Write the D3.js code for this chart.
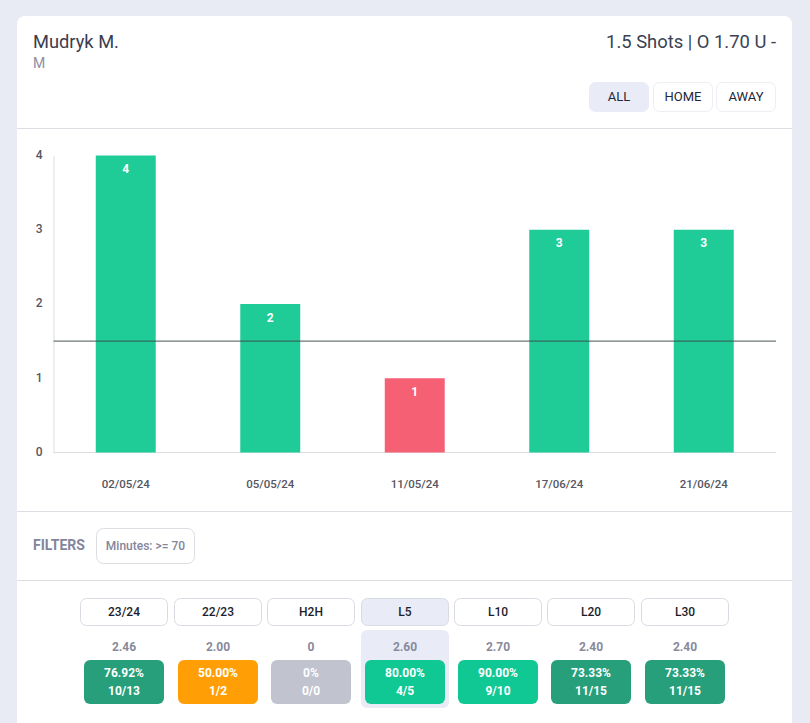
<!DOCTYPE html>
<html><head><meta charset="utf-8">
<script src="https://cdn.jsdelivr.net/npm/d3@7"></script>
<style>
html,body{margin:0;padding:0;background:#e8ebf4;overflow:hidden}
svg{display:block;font-family:Roboto,sans-serif}
</style></head><body>
<svg id="c" width="810" height="723"></svg>
<script>
const dates = ["02/05/24","05/05/24","11/05/24","17/06/24","21/06/24"];
const shots = [4,2,1,3,3];
const lineValue = 1.5;
const yTicks = [0,1,2,3,4];
const periods = ["23/24","22/23","H2H","L5","L10","L20","L30"];
const averages = ["2.46","2.00","0","2.60","2.70","2.40","2.40"];
const percents = ["76.92%","50.00%","0%","80.00%","90.00%","73.33%","73.33%"];
const ratios = ["10/13","1/2","0/0","4/5","9/10","11/15","11/15"];
const boxColors = ["#279f7b","#ff9f05","#c1c3cf","#10c893","#10c893","#279f7b","#279f7b"];
const sides = ["ALL","HOME","AWAY"];

const svg = d3.select("#c");
const rr = (g,x,y,w,h,r,fill,stroke)=>g.append("rect").attr("x",x).attr("y",y).attr("width",w).attr("height",h)
  .attr("rx",r).attr("fill",fill).attr("stroke",stroke||"none");
const txt = (g,x,y,s,size,weight,fill,anchor)=>g.append("text").attr("x",x).attr("y",y).text(s)
  .attr("font-size",size).attr("font-weight",weight).attr("fill",fill).attr("text-anchor",anchor||"middle");

// card
rr(svg,17,16,775,760,8,"#fff");
[128.5,511.5,580.5].forEach(y=>svg.append("line").attr("x1",17).attr("x2",792).attr("y1",y).attr("y2",y).attr("stroke","#dcdde3"));

// header
txt(svg,33,48,"Mudryk M.",18.3,400,"#3a3c50","start");
txt(svg,33,68,"M",14,400,"#8d8ea3","start");
txt(svg,776,48,"1.5 Shots | O 1.70 U -",18.4,400,"#3a4153","end");

// side buttons
const sideX = d3.scaleOrdinal().domain(sides).range([589,653,716]);
sides.forEach((s,i)=>{
  const x=sideX(s);
  rr(svg,x+.5,82.5,59,29,6,i===0?"#e9ecf6":"#fff",i===0?"#e9ecf6":"#eceef3");
  txt(svg,x+30,101,s,13,400,"#24263a");
});

// chart
const x = d3.scaleBand().domain(dates).range([53.5,776]).paddingInner(0.585).paddingOuter(0.2925);
const y = d3.scaleLinear().domain([0,4]).range([452.5,155.5]);
const plot = svg.append("g");

const yAxis = plot.append("g").attr("transform","translate(53.5,0)").call(d3.axisLeft(y).tickValues(yTicks).tickSize(0).tickPadding(11).tickFormat(d3.format("d")));
yAxis.select(".domain").attr("stroke","#dcdde3");
yAxis.selectAll("text").attr("y",-1).attr("font-size",12).attr("font-weight",500).attr("font-family","Roboto").attr("fill","#55565f");

const xAxis = plot.append("g").attr("transform","translate(0,452.5)").call(d3.axisBottom(x).tickSize(0).tickPadding(0));
xAxis.select(".domain").attr("stroke","#dcdde3").attr("d","M53.5,0H776");
xAxis.selectAll("text").attr("y",35).attr("dy",0).attr("font-size",11.5).attr("font-weight",500).attr("font-family","Roboto").attr("fill","#55565f");

plot.selectAll(".bar").data(shots).join("rect").attr("class","bar")
  .attr("x",(d,i)=>x(dates[i])).attr("width",x.bandwidth())
  .attr("y",d=>y(d)).attr("height",d=>y(0)-y(d))
  .attr("fill",d=>d>lineValue?"#1fcc97":"#f66074");

plot.append("line").attr("x1",53.5).attr("x2",776).attr("y1",y(lineValue)).attr("y2",y(lineValue))
  .attr("stroke","#3c4a48").attr("stroke-opacity",.75).attr("stroke-width",1.2);

plot.selectAll(".lab").data(shots).join("text").attr("class","lab")
  .attr("x",(d,i)=>x(dates[i])+x.bandwidth()/2).attr("y",d=>y(d)+17.5)
  .attr("text-anchor","middle").attr("font-size",12).attr("font-weight",700).attr("fill","#fff").text(d=>d);

// filters
txt(svg,33,550,"FILTERS",14,700,"#84859b","start");
rr(svg,96.5,528.5,98,35,7,"#fff","#dcdde3");
txt(svg,145.5,550,"Minutes: >= 70",12,500,"#84859b");

// periods
const btnX = [80,174,267,361,454,547,641];
const pos = d3.scaleOrdinal().domain(periods).range(btnX);
rr(svg,pos("L5"),630,88,78,6,"#e9ecf6");
periods.forEach((p,i)=>{
  const bx=pos(p), cx=bx+44, on=p==="L5";
  rr(svg,bx+.5,598.5,87,27,6,on?"#e9ecf6":"#fff","#d9dbe2");
  txt(svg,cx,616,p,12,500,"#1c1d2b");
  txt(svg,cx,651,averages[i],12,700,"#888a9c");
  rr(svg,bx+4,660,80,44,6,boxColors[i]);
  txt(svg,cx,677,percents[i],12,700,"#fff");
  txt(svg,cx,695,ratios[i],12,700,"#fff");
});
</script>
</body></html>
